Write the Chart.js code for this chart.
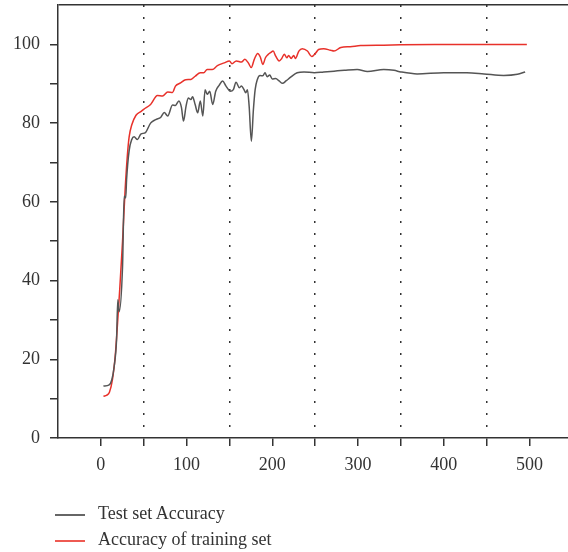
<!DOCTYPE html>
<html lang="en">
<head>
    <meta charset="UTF-8">
    <title>Accuracy</title>
    <script src="https://cdn.jsdelivr.net/npm/chart.js"></script>
    <style>
        body {
            margin: 0;
            padding: 0;
            background: #fff;
        }
        .wrap {
            position: relative;
            width: 568px;
            height: 552px;
        }
        .legend {
            position: absolute;
            left: 55px;
            top: 502px;
            font-family: 'Liberation Serif', serif;
            font-size: 18px;
            color: #333;
        }
        .legend div {
            height: 26px;
            line-height: 22px;
            white-space: nowrap;
        }
        .legend span.swatch {
            display: inline-block;
            width: 30px;
            height: 1.5px;
            vertical-align: middle;
            margin-right: 13px;
        }
    </style>
</head>
<body>
    <div class="wrap">
        <canvas id="accChart" width="568" height="552"></canvas>
        <div class="legend">
            <div><span class="swatch" style="background:#666"></span>Test set Accuracy</div>
            <div><span class="swatch" style="background:#ee5a52"></span>Accuracy of training set</div>
        </div>
    </div>

    <script>
        // valores
        const testEpochs = [3, 9.7, 12.8, 15.5, 18.3, 19.8, 21.3, 25.3, 27.2, 29, 30, 33, 36, 38.8, 42.7, 46.6, 52, 58, 64, 70, 74, 78, 83.6, 87, 91, 94, 96.4, 99.4, 102, 105, 107, 110, 113, 116, 119, 121.6, 124, 127, 130.5, 134, 138, 142, 146, 151, 154.6, 157.7, 161.6, 164, 167, 169, 171, 173, 175.6, 178, 180, 182.6, 185.7, 189, 191.5, 194, 197, 200, 204, 208, 212, 216, 221, 229, 237, 249, 260, 272, 284, 299, 311, 330, 342, 350, 369, 400, 427, 447, 470, 486, 495];
        const testAcc = [13.2, 13.5, 14.8, 18.1, 24.9, 35.1, 32.1, 43.6, 61.4, 61, 65.6, 73, 75.8, 76.5, 75.8, 77.2, 77.6, 80, 80.9, 81.5, 82.7, 81.8, 84.6, 84.5, 85.6, 84.0, 80.5, 84.3, 86.4, 86, 86.7, 84.7, 82.6, 85.6, 81.8, 88.5, 87.3, 88.1, 84.7, 88.1, 89.6, 90.7, 89.4, 88.1, 88.5, 90.4, 89, 89.4, 88.5, 87.7, 88.5, 84.3, 75.4, 83.5, 88.5, 91.1, 92.1, 92, 92.8, 91.8, 92.2, 91.2, 91.3, 90.7, 90.1, 90.7, 91.6, 92.8, 93, 92.8, 93, 93.2, 93.4, 93.6, 93.1, 93.6, 93.4, 93, 92.5, 92.8, 92.8, 92.5, 92.1, 92.4, 93];

        const trainEpochs = [3, 7, 10, 13.5, 16.7, 19.5, 22, 25.3, 28.3, 31, 33, 36, 41, 47, 50, 58, 66, 72, 78, 83.6, 87, 93, 99, 105, 110, 116, 120, 124, 130, 136, 144, 150, 153, 158, 164, 168, 172, 175.5, 179, 183, 186, 189, 192, 195, 198, 201, 204, 208, 211, 214, 217, 219, 222, 225, 227, 231, 235, 241, 246, 251, 254, 260, 268, 272, 280, 291, 303, 330, 350, 400, 497];
        const trainAcc = [10.6, 10.9, 11.6, 14.8, 20.7, 29.2, 37.7, 50, 63, 72, 76.5, 79.5, 82, 83, 83.5, 84.7, 87, 86.9, 87.9, 87.8, 89.4, 90.2, 91, 91.1, 91.9, 92.8, 92.8, 93.6, 93.6, 94.6, 95.3, 95.8, 95.1, 95.8, 95.5, 96.2, 95.3, 94.1, 96.2, 97.7, 96.8, 94.9, 96.6, 97.4, 97.9, 98.3, 97.0, 95.8, 96.4, 97.5, 96.6, 97.2, 96.4, 97.2, 96.4, 98.3, 98.9, 98.3, 96.9, 97.9, 98.7, 98.9, 98.5, 98.3, 99.2, 99.4, 99.7, 99.8, 99.9, 99.95, 99.95];

        const xTickStep = 50;
        const yTickStep = 10;

        function toPoints(xs, ys) {
            return xs.map((x, i) => ({ x: x, y: ys[i] }));
        }

        const axisColor = '#333';
        const fontSerif = { family: "'Liberation Serif', serif", size: 18 };

        const ctx = document.getElementById('accChart').getContext('2d');
        const accChart = new Chart(ctx, {
            type: 'line',
            data: {
                datasets: [{
                    label: 'Test set Accuracy',
                    data: toPoints(testEpochs, testAcc),
                    borderColor: '#555555',
                    borderWidth: 1.5,
                    pointRadius: 0,
                    cubicInterpolationMode: 'monotone',
                    fill: false
                }, {
                    label: 'Accuracy of training set',
                    data: toPoints(trainEpochs, trainAcc),
                    borderColor: '#e8312a',
                    borderWidth: 1.5,
                    pointRadius: 0,
                    cubicInterpolationMode: 'monotone',
                    fill: false
                }]
            },
            options: {
                responsive: false,
                animation: false,
                layout: { padding: { top: 5, right: 0, bottom: 74, left: 0 } },
                plugins: {
                    legend: { display: false },
                    tooltip: { enabled: false }
                },
                scales: {
                    x: {
                        type: 'linear',
                        min: -50,
                        max: 545,
                        afterFit: (scale) => {
                            scale.height = 40;
                            scale.paddingLeft = 0;
                            scale.paddingRight = 0;
                        },
                        ticks: {
                            stepSize: xTickStep,
                            includeBounds: false,
                            autoSkip: false,
                            maxRotation: 0,
                            padding: 8,
                            color: axisColor,
                            font: fontSerif,
                            callback: (v) => (v >= 0 && v % 100 === 0) ? v : ''
                        },
                        grid: {
                            lineWidth: 1.5,
                            tickLength: 8,
                            tickWidth: 1.5,
                            color: (c) => {
                                const v = c.tick ? c.tick.value : null;
                                return (v !== null && v % 100 === 50) ? axisColor : 'transparent';
                            },
                            tickColor: (c) => {
                                const v = c.tick ? c.tick.value : null;
                                return (v !== null && v >= 0 && v % 50 === 0) ? axisColor : 'transparent';
                            }
                        },
                        border: { color: axisColor, width: 1.5, dash: [2, 10] }
                    },
                    y: {
                        min: 0,
                        max: 110,
                        afterFit: (scale) => {
                            scale.width = 58;
                            scale.paddingTop = 0;
                            scale.paddingBottom = 0;
                        },
                        ticks: {
                            stepSize: yTickStep,
                            autoSkip: false,
                            padding: 10,
                            color: axisColor,
                            font: fontSerif,
                            callback: (v) => (v % 20 === 0 && v <= 100) ? v : ''
                        },
                        grid: {
                            lineWidth: 1.5,
                            tickLength: 8,
                            tickWidth: 1.5,
                            color: (c) => (c.tick && c.tick.value === 110) ? axisColor : 'transparent',
                            tickColor: (c) => (c.tick && c.tick.value <= 100) ? axisColor : 'transparent'
                        },
                        border: { color: axisColor, width: 1.5 }
                    }
                }
            }
        });
    </script>
</body>
</html>
